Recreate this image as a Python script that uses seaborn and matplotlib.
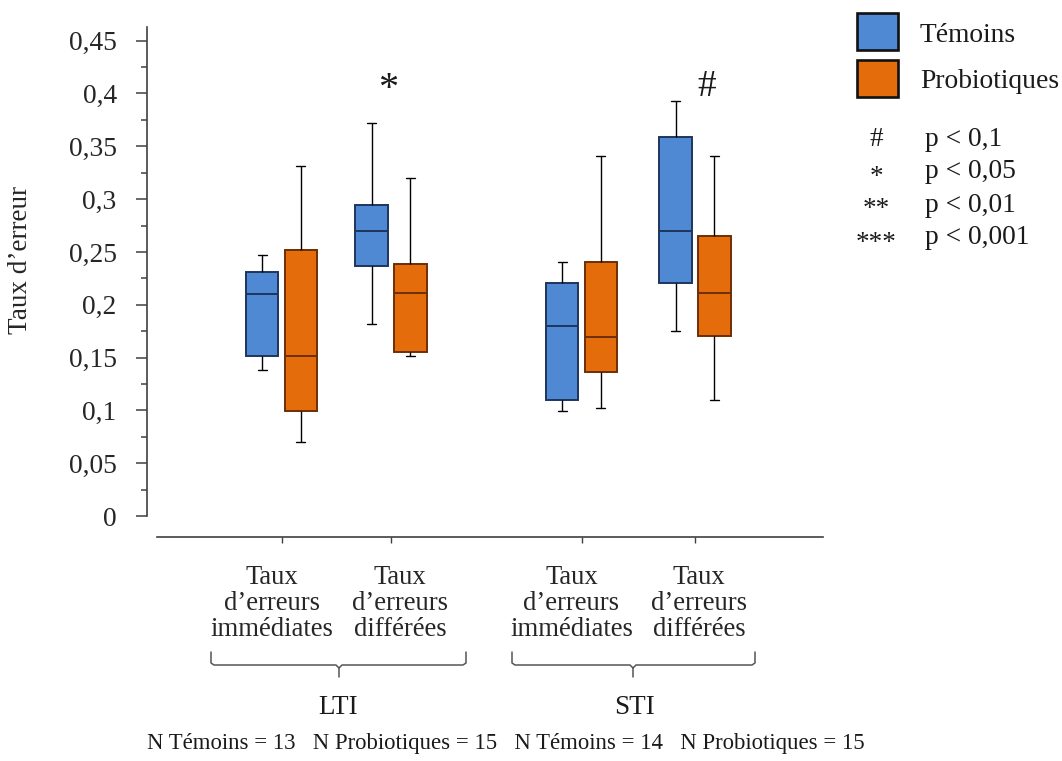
import numpy as np
import pandas as pd
import matplotlib
matplotlib.use("Agg")
import matplotlib.pyplot as plt
import matplotlib.transforms as mtransforms
from matplotlib.patches import Rectangle
from matplotlib.lines import Line2D
from matplotlib.ticker import FixedLocator, FixedFormatter
import seaborn as sns

# ---------------- data (five-number summaries) ----------------
conditions = ["LTI_imm", "LTI_diff", "STI_imm", "STI_diff"]
tick_labels = ["Taux\nd’erreurs\nimmédiates", "Taux\nd’erreurs\ndifférées",
               "Taux\nd’erreurs\nimmédiates", "Taux\nd’erreurs\ndifférées"]
groups = ["Témoins", "Probiotiques"]

# [min, Q1, median, Q3, max]
temoins_lti_imm = [0.138, 0.151, 0.210, 0.231, 0.247]
temoins_lti_diff = [0.182, 0.237, 0.270, 0.294, 0.372]
temoins_sti_imm = [0.099, 0.110, 0.180, 0.221, 0.240]
temoins_sti_diff = [0.175, 0.221, 0.270, 0.359, 0.393]
probio_lti_imm = [0.070, 0.099, 0.151, 0.252, 0.331]
probio_lti_diff = [0.151, 0.155, 0.211, 0.239, 0.320]
probio_sti_imm = [0.102, 0.136, 0.169, 0.240, 0.341]
probio_sti_diff = [0.110, 0.170, 0.211, 0.265, 0.341]

ytick_values = [0, 0.05, 0.1, 0.15, 0.2, 0.25, 0.3, 0.35, 0.4, 0.45]
ytick_labels = ["0", "0,05", "0,1", "0,15", "0,2", "0,25", "0,3", "0,35", "0,4", "0,45"]

significance = ["*", "", "", "#"]      # marker above each condition (Témoins box)
sig_legend_symbols = ["#", "*", "**", "***"]
sig_legend_texts = ["p < 0,1", "p < 0,05", "p < 0,01", "p < 0,001"]
family_labels = ["LTI", "STI"]
n_text = "N Témoins = 13   N Probiotiques = 15   N Témoins = 14   N Probiotiques = 15"

# ---------------- layout (pixel-based) ----------------
W, H = 1062, 761
cond_pos = {"LTI_imm": 281.5, "LTI_diff": 391.0, "STI_imm": 581.5, "STI_diff": 695.0}
label_shift_px = {"LTI_imm": -9.5, "LTI_diff": 9.0, "STI_imm": -10.0, "STI_diff": 4.0}
fill_colors = {"Témoins": "#4F88D3", "Probiotiques": "#E46C0A"}
edge_colors = {"Témoins": "#1E355C", "Probiotiques": "#6E2E05"}

series = {
    ("LTI_imm", "Témoins"): temoins_lti_imm, ("LTI_diff", "Témoins"): temoins_lti_diff,
    ("STI_imm", "Témoins"): temoins_sti_imm, ("STI_diff", "Témoins"): temoins_sti_diff,
    ("LTI_imm", "Probiotiques"): probio_lti_imm, ("LTI_diff", "Probiotiques"): probio_lti_diff,
    ("STI_imm", "Probiotiques"): probio_sti_imm, ("STI_diff", "Probiotiques"): probio_sti_diff,
}
rows = []
for (cond, grp), vals in series.items():
    for v in vals:
        rows.append({"condition": cond, "pos": cond_pos[cond], "group": grp, "value": v})
df = pd.DataFrame(rows)

sns.set_theme(style="white")
plt.rcParams["font.family"] = ["Liberation Serif", "DejaVu Serif"]
plt.rcParams["text.color"] = "#1a1a1a"

fig = plt.figure(figsize=(W / 100, H / 100), dpi=100)
ax_left, ax_right, ax_top, ax_bottom = 157, 823, 27, 516
ax = fig.add_axes([ax_left / W, 1 - ax_bottom / H, (ax_right - ax_left) / W, (ax_bottom - ax_top) / H])

for grp in groups:
    sub = df[df["group"] == grp]
    sns.boxplot(data=sub, x="pos", y="value", hue="group", hue_order=groups,
                palette=fill_colors, native_scale=True, dodge=True,
                width=0.712, gap=0.154, whis=(0, 100), saturation=1,
                linecolor=edge_colors[grp], linewidth=1.4, fliersize=0,
                whiskerprops=dict(color="black", linewidth=1.0),
                capprops=dict(color="black", linewidth=1.0),
                legend=False, ax=ax)

# shorten whisker caps
for ln in ax.lines:
    xd = np.asarray(ln.get_xdata(), dtype=float)
    yd = np.asarray(ln.get_ydata(), dtype=float)
    if len(xd) == 2 and np.isclose(yd[0], yd[1]) and abs(xd[1] - xd[0]) > 0:
        length = abs(xd[1] - xd[0])
        if length < 25:
            c = xd.mean()
            ln.set_xdata([c - 4.5, c + 4.5])

ax.set_xlim(ax_left, ax_right)
y_top = (ax_bottom - ax_top) / 1056.3
ax.set_ylim(0, y_top)

# axes styling
for s in ["top", "right"]:
    ax.spines[s].set_visible(False)
ax.spines["left"].set_position(("outward", 7.0))
ax.spines["bottom"].set_position(("outward", 15.1))
for s in ["left", "bottom"]:
    ax.spines[s].set_color("#404040")
    ax.spines[s].set_linewidth(1.2)

ax.yaxis.set_major_locator(FixedLocator(ytick_values))
ax.yaxis.set_major_formatter(FixedFormatter(ytick_labels))
ax.set_yticks([v + 0.025 for v in ytick_values[:-1]], minor=True)
ax.tick_params(axis="y", which="major", length=8, width=1.1, color="#404040",
               direction="out", left=True, pad=14, labelsize=19.8)
ax.tick_params(axis="y", which="minor", length=4, width=1.1, color="#404040",
               direction="out", left=True)

ax.set_xticks([cond_pos[c] for c in conditions])
ax.set_xticklabels(tick_labels)
ax.tick_params(axis="x", which="major", length=4, width=1.0, color="#404040",
               direction="out", bottom=True, pad=16, labelsize=19.2)
for cond, lbl in zip(conditions, ax.get_xticklabels()):
    lbl.set_linespacing(1.07)
    shift = mtransforms.ScaledTranslation(label_shift_px[cond] / 100, 0, fig.dpi_scale_trans)
    lbl.set_transform(lbl.get_transform() + shift)

ax.set_xlabel("")
ax.set_ylabel("Taux d’erreur", fontsize=19.5, va="center")
ax.yaxis.set_label_coords((21 - ax_left) / (ax_right - ax_left), (ax_bottom - 260) / (ax_bottom - ax_top))
ax.grid(False)


def F(x, y):
    return x / W, 1 - y / H


# significance markers
fig.text(*F(388, 90), significance[0], fontsize=29, ha="center", va="center")
fig.text(*F(707, 87), significance[3], fontsize=27, ha="center", va="center")

# legend squares
for i, grp in enumerate(groups):
    y0 = [13, 60][i]
    x0, y0f = F(857, y0 + 37)
    fig.add_artist(Rectangle((x0, y0f), 41 / W, 37 / H, transform=fig.transFigure,
                             facecolor=fill_colors[grp], edgecolor="#111111", linewidth=1.9))
    fig.text(*F(920, y0 + 22), grp, fontsize=19.8, ha="left", va="center")

# significance legend
for i, (sym, txt) in enumerate(zip(sig_legend_symbols, sig_legend_texts)):
    yy = [140, 172, 205, 238][i]
    fig.text(*F(876, yy + (5 if "*" in sym else 0)), sym, fontsize=19.5, ha="center", va="center")
    fig.text(*F(925, yy), txt, fontsize=19.8, ha="left", va="center")

# braces
def brace(x1, x2, xc, ytop=652, ymid=665, ybot=677):
    pts = [(x1, ytop), (x1, ymid - 2), (x1 + 3, ymid), (xc - 3, ymid), (xc, ymid + 3), (xc, ybot)]
    pts2 = [(xc, ymid + 3), (xc + 3, ymid), (x2 - 3, ymid), (x2, ymid - 2), (x2, ytop)]
    for p in (pts, pts2):
        xs = [q[0] / W for q in p]
        ys = [1 - q[1] / H for q in p]
        fig.add_artist(Line2D(xs, ys, transform=fig.transFigure, color="#555555", linewidth=1.1))


brace(211, 466, 339)
brace(512, 755, 633)
fig.text(*F(338, 707), family_labels[0], fontsize=19.5, ha="center", va="center")
fig.text(*F(634, 707), family_labels[1], fontsize=19.5, ha="center", va="center")
fig.text(*F(506, 743), n_text, fontsize=16.4, ha="center", va="center")

fig.savefig("out.png", dpi=100)
